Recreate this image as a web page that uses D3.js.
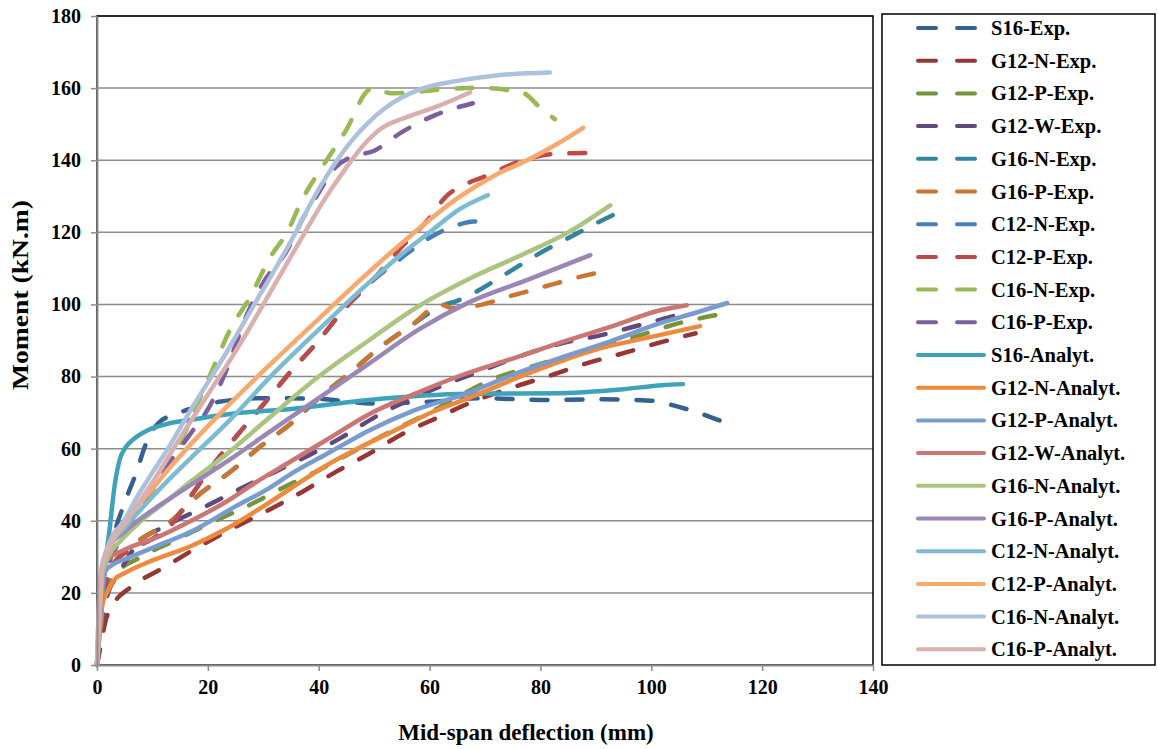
<!DOCTYPE html>
<html>
<head>
<meta charset="utf-8">
<script src="https://cdn.jsdelivr.net/npm/d3@7"></script>
<style>
  body { margin: 0; background: #fff; }
  text { font-family: "Liberation Serif", "Times New Roman", serif; font-weight: bold; fill: #000; }
</style>
</head>
<body>
<svg id="chart"></svg>
<script>
// moment vs mid-span deflection, experimental (dashed) and analytical (solid)
let w = 1158;
let h = 749;

// experimental curves [deflection mm, moment kN.m]
let s16Exp = [[0,0],[1,12],[2,25],[3,35],[5,45],[7,53],[9,62],[11,67],[14,69.5],[18,71.5],[22,73],[30,74],[40,73.8],[50,72.5],[60,73],[70,74],[80,73.5],[90,73.7],[100,73.3],[104,72],[108,70.2],[112,68],[115.5,66]];
let g12NExp = [[0,0],[0.5,4],[1.5,12],[3,17],[6,21.5],[12,27],[18,32.5],[24,37.5],[31,43],[37,48],[43,53.5],[49,58.5],[55,64],[62,69],[67,72.5],[75,77],[82,80.4],[88,83.5],[95,86.5],[101,89.2],[108,92]];
let g12PExp = [[0,0],[1,14],[2,22],[3,24.5],[8,30],[14,34.5],[20,39],[27,44],[34,49.5],[40,54],[46,59],[52,64],[60,70],[71,79],[80,83.5],[90,88],[97,91],[105,94.8],[113.7,97.6]];
let g12WExp = [[0,0],[1,12],[2,20],[3.6,24.5],[7,33],[13,39],[19,43.5],[26,49],[32,53.5],[38,58],[44,63],[51,69.5],[57,74],[64,78.5],[70,82],[76,85.5],[84,89.3],[91,91.5],[98,94.3],[105,97.2]];
let g16NExp = [[0,0],[1,15],[2,25],[4,30],[8,35],[13,39.5],[18.6,47.5],[24,53.5],[29.4,60.5],[35,67],[40,74],[46,81.5],[51,88],[57,94.5],[62,99.5],[65,101],[68,103.2],[74,108.7],[80,114.3],[86,119.2],[92,124],[93.8,125.3]];
let g16PExp = [[0,0],[1,15],[2,25],[4,30],[8,35],[13,39.5],[18.6,47.5],[24,53.5],[29.4,60.5],[35,67],[40,74],[46,81.5],[51,88],[57,94.5],[62,100],[64,99],[68,99.5],[75,102.5],[82,105.5],[88,108],[90,108.7]];
let c12NExp = [[0,0],[0.5,12],[1.5,22],[3,28],[6,32],[10,35],[13.7,39.5],[17,47],[21.6,56.8],[26,65],[30.7,73.5],[35,81.5],[40,90],[44.4,98.4],[49.3,106],[55,113],[60,118.5],[65,122],[68,123],[70.5,123]];
let c12PExp = [[0,0],[0.5,12],[1.5,22],[3,28],[6,32],[10,35],[13.7,39.5],[17,47],[21.6,56.8],[26,65],[30.7,73.5],[35,81.5],[40,90],[44.4,98.4],[49.3,106],[55,116],[60,124],[63,130],[66,133],[70,135.5],[76,139.5],[82,141.7],[88.6,142]];
let c16NExp = [[0,0],[0.5,15],[1,25],[2,30],[4,36],[7,42],[10,48],[13,56],[15,61.5],[18,72],[21,82.5],[24,93],[27.6,102],[31.2,113],[34.3,120],[37,129],[41,139],[45,148.5],[49,159.5],[50,160],[53,158.6],[57,158.8],[61,159.5],[67,160],[70,160],[74,159.5],[77,158.6],[80,154.5],[82.6,151.4]];
let c16PExp = [[0,0],[0.5,12],[1,22],[2,28],[4,34],[7,42],[10,49],[13,56],[16.8,64],[20.4,72],[23.4,82],[27,97],[30,106],[34.3,115],[37.2,124],[40,131],[42.6,137.3],[46,141],[49.8,142.5],[55,147.8],[61,152.5],[67.8,155.8]];

// analytical curves
let s16An = [[0,0],[0.8,15],[1.5,28],[2.3,38],[3.2,50],[4.1,57],[5,60],[6.5,62.5],[9,65],[13,67],[17,68],[25,69.8],[35,71],[49,73.5],[67,75.2],[84,75.4],[95,76.5],[102,77.6],[105.7,77.9]];
let g12NAn = [[0,0],[0.5,10],[1,17],[1.8,20],[3,23.5],[5,25.5],[10,29],[17,33],[23,37.5],[29,43],[35,49],[41,55],[47,60],[55,66],[61,70.5],[67,74],[78,81],[90,87.5],[100,91],[108.8,94]];
let g12PAn = [[0,0],[0.5,12],[1,22],[1.5,26],[3,28],[5,29.3],[10,32.5],[17,37],[25,44],[31,49],[35,53],[42,59],[49,65],[57,70.5],[67,75.5],[75,80.5],[84,85.4],[93,90],[101.6,94.8],[108,97.7],[113.7,100.4]];
let g12WAn = [[0,0],[0.5,14],[1,25],[1.8,29],[5,32],[11,35.5],[17,40],[23,45],[29,51],[35,56.5],[42,63],[49,69.5],[57,75],[66,80.5],[75,85],[84,89.6],[93,94],[101.6,98.4],[106.4,99.8]];
let g16NAn = [[0,0],[0.5,15],[1,25],[2,30],[4,34],[8,40],[13,46],[17,51],[23,58],[31,68.5],[40,80],[49,90],[58,99.5],[67,107],[77,114],[85,120],[92.6,127.5]];
let g16PAn = [[0,0],[0.5,15],[1,26],[1.8,32],[5,37],[11,44],[17,50],[24,57],[31,64.5],[40,74],[49,83.5],[58,93],[67,100.5],[78,107],[89,113.7]];
let c12NAn = [[0,0],[0.5,15],[1,26],[2,32],[5,38],[9,45],[13,51.5],[17,57.5],[24,68],[31,79.5],[40,93],[49,106],[55,114],[60,120],[65.5,126.5],[70.5,130.3]];
let c12PAn = [[0,0],[0.5,15],[1,27],[2,33],[5,40],[9,47],[13,54.5],[18,63],[24,72.5],[31,83],[40,96],[48,107.5],[56.5,119],[65.5,130],[72,136],[77.6,140],[83,144.5],[87.7,149]];
let c16NAn = [[0,0],[0.3,15],[0.8,27],[1.8,32],[3,36],[4.7,39.5],[7,46],[9,51],[13,60.5],[17,71],[22.7,85],[28,99],[34.8,117],[40,132],[46,145.5],[52,154.5],[58,159.5],[65,162],[72,163.5],[81.7,164.3]];
let c16PAn = [[0,0],[0.3,15],[0.8,26],[1.8,31],[3,35],[5,39],[8,46],[11,53],[15,63],[20,75],[25,87],[30,100],[36,116],[41,129],[45,138],[48,144],[51,148.5],[56,152],[61,154.7],[67.3,158.8]];

let names = ['S16-Exp.', 'G12-N-Exp.', 'G12-P-Exp.', 'G12-W-Exp.', 'G16-N-Exp.', 'G16-P-Exp.', 'C12-N-Exp.', 'C12-P-Exp.', 'C16-N-Exp.', 'C16-P-Exp.',
    'S16-Analyt.', 'G12-N-Analyt.', 'G12-P-Analyt.', 'G12-W-Analyt.', 'G16-N-Analyt.', 'G16-P-Analyt.', 'C12-N-Analyt.', 'C12-P-Analyt.', 'C16-N-Analyt.', 'C16-P-Analyt.'];
let values = [s16Exp, g12NExp, g12PExp, g12WExp, g16NExp, g16PExp, c12NExp, c12PExp, c16NExp, c16PExp,
    s16An, g12NAn, g12PAn, g12WAn, g16NAn, g16PAn, c12NAn, c12PAn, c16NAn, c16PAn];
let xTicks = [0, 20, 40, 60, 80, 100, 120, 140];
let yTicks = [0, 20, 40, 60, 80, 100, 120, 140, 160, 180];

let colors = ['#376092', '#953735', '#77933c', '#604a7b', '#31859c', '#cc7533', '#4a7ebb', '#be4b48', '#98b954', '#7d5fa0',
    '#3ea3ba', '#ee8a3d', '#789bd0', '#cc7674', '#abc580', '#9a87b5', '#7cbbd1', '#f9a96e', '#adc0dc', '#dab0af'];

let m = {left: 97, right: 873, top: 16, bottom: 665};

let x = d3.scaleLinear().domain([0, 140]).range([m.left, m.right]);
let y = d3.scaleLinear().domain([0, 180]).range([m.bottom, m.top]);

let svg = d3.select('#chart')
    .attr('width', w)
    .attr('height', h);

// grid
svg.append('g')
    .selectAll('line')
    .data(yTicks.slice(1))
    .enter()
    .append('line')
    .attr('x1', m.left).attr('x2', m.right)
    .attr('y1', d => y(d)).attr('y2', d => y(d))
    .attr('stroke', '#8c8c8c')
    .attr('stroke-width', 1.5);

// plot frame
svg.append('rect')
    .attr('x', m.left).attr('y', m.top)
    .attr('width', m.right - m.left).attr('height', m.bottom - m.top)
    .attr('fill', 'none')
    .attr('stroke', '#000')
    .attr('stroke-width', 1.5);

let line = d3.line()
    .x(d => x(d[0]))
    .y(d => y(d[1]))
    .curve(d3.curveMonotoneX);

svg.append('g')
    .selectAll('path')
    .data(values)
    .enter()
    .append('path')
    .attr('d', line)
    .attr('fill', 'none')
    .attr('stroke', (d, i) => colors[i])
    .attr('stroke-width', 4.5)
    .attr('stroke-linecap', 'round')
    .attr('stroke-linejoin', 'round')
    .attr('stroke-dasharray', (d, i) => i < 10 ? '16,19' : null);

// axes
let xAxis = d3.axisBottom(x)
    .tickValues(xTicks)
    .tickSizeInner(6)
    .tickSizeOuter(0)
    .tickPadding(9);

let yAxis = d3.axisLeft(y)
    .tickValues(yTicks)
    .tickSizeInner(6)
    .tickSizeOuter(0)
    .tickPadding(10);

let $xAxis = svg.append('g')
    .attr('transform', `translate(0, ${m.bottom})`)
    .call(xAxis);

let $yAxis = svg.append('g')
    .attr('transform', `translate(${m.left}, 0)`)
    .call(yAxis);

[$xAxis, $yAxis].forEach(a => {
    a.select('.domain').attr('stroke', '#8c8c8c').attr('stroke-width', 2);
    a.selectAll('.tick line').attr('stroke', '#8c8c8c').attr('stroke-width', 1.5);
    a.selectAll('.tick text')
        .attr('font-family', '"Liberation Serif", serif')
        .attr('font-weight', 'bold')
        .attr('font-size', 20)
        .attr('fill', '#000');
});

svg.append('text')
    .attr('x', 526).attr('y', 740)
    .attr('text-anchor', 'middle')
    .attr('font-size', 23)
    .text('Mid-span deflection (mm)');

svg.append('text')
    .attr('transform', 'translate(28, 295) rotate(-90) scale(1.15, 1)')
    .attr('text-anchor', 'middle')
    .attr('font-size', 24)
    .text('Moment (kN.m)');

// legend
svg.append('rect')
    .attr('x', 882).attr('y', 14)
    .attr('width', 273).attr('height', 651)
    .attr('fill', '#fff')
    .attr('stroke', '#000')
    .attr('stroke-width', 1.5);

let legend = svg.append('g')
    .selectAll('g')
    .data(names)
    .enter()
    .append('g')
    .attr('transform', (d, i) => `translate(918, ${28 + i * 32.7})`);

legend.append('line')
    .attr('x1', 0).attr('x2', (d, i) => i < 10 ? 59 : 66)
    .attr('y1', 0).attr('y2', 0)
    .attr('stroke', (d, i) => colors[i])
    .attr('stroke-width', 4)
    .attr('stroke-linecap', 'round')
    .attr('stroke-dasharray', (d, i) => i < 10 ? '18,21' : null);

legend.append('text')
    .attr('x', 73)
    .attr('y', 7)
    .attr('font-size', 20.5)
    .text(d => d);
</script>
</body>
</html>
